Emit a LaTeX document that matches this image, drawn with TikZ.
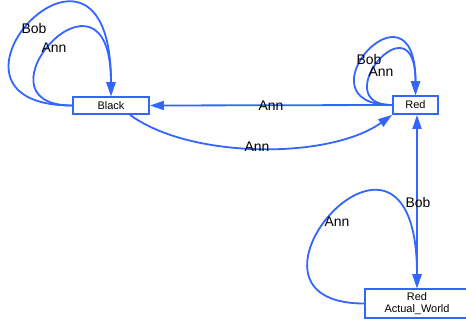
\documentclass[tikz,border=0pt]{standalone}
\usepackage{fontspec}
\setmainfont{Liberation Sans}
\usetikzlibrary{arrows.meta}
\definecolor{eblue}{RGB}{51,102,255}
\tikzset{
  world/.style={draw=eblue, line width=1.8bp, fill=white, inner sep=0pt, align=center,
    font=\fontsize{11}{12.5}\selectfont},
  edge/.style={draw=eblue, line width=1.8bp, -{Triangle[length=14bp,width=9bp]}},
  lbl/.style={inner sep=0pt, font=\fontsize{14}{16}\selectfont}
}
\begin{document}
\begin{tikzpicture}[x=1bp,y=-1bp]
\useasboundingbox (0,0) rectangle (466,320);
% edges first so boxes cover the line ends
\node[world, minimum width=76bp, minimum height=17bp] (black) at (111,105.5) {Black};
\node[world, minimum width=45bp, minimum height=18bp] (red) at (415.5,105) {Red};
\node[world, minimum width=104bp, minimum height=29bp] (actual) at (417,303.5) {Red\\[-1bp]Actual\_World};
% loops at Black
\draw[edge] (black.west) .. controls +(-163,0) and +(0,-209) .. (black.north);
\draw[edge] (black.west) .. controls +(-106,0) and +(0,-153) .. (black.north);
% loops at Red
\draw[edge] (red.west) .. controls +(-98,0) and +(0,-126) .. (red.north);
\draw[edge] (red.west) .. controls +(-68,0) and +(0,-101) .. (red.north);
% loop at Actual
\draw[edge] (actual.west) .. controls +(-154,0) and +(0,-220) .. (actual.north);
% Red -> Black
\draw[edge] (red.west) -- (black.east);
% Black -> Red curved
\draw[edge] ([xshift=19bp]black.south) .. controls +(60,44) and +(-63,45) .. (red.south west);
% Red <-> Actual
\draw[edge, {Triangle[length=14bp,width=9bp]}-{Triangle[length=14bp,width=9bp]}] (red.south -| actual.north) -- (actual.north);
% labels
\node[lbl] (lb1) at (34,29) {Bob};
\node[lbl] (lb2) at (54,48) {Ann};
\node[lbl] (lb3) at (369,60) {Bob};
\node[lbl] (lb4) at (381,72) {Ann};
\node[lbl] (lb5) at (271,106) {Ann};
\node[lbl] (lb6) at (257,147) {Ann};
\node[lbl] (lb7) at (418,203) {Bob};
\node[lbl] (lb8) at (337,222) {Ann};
\end{tikzpicture}
\end{document}
